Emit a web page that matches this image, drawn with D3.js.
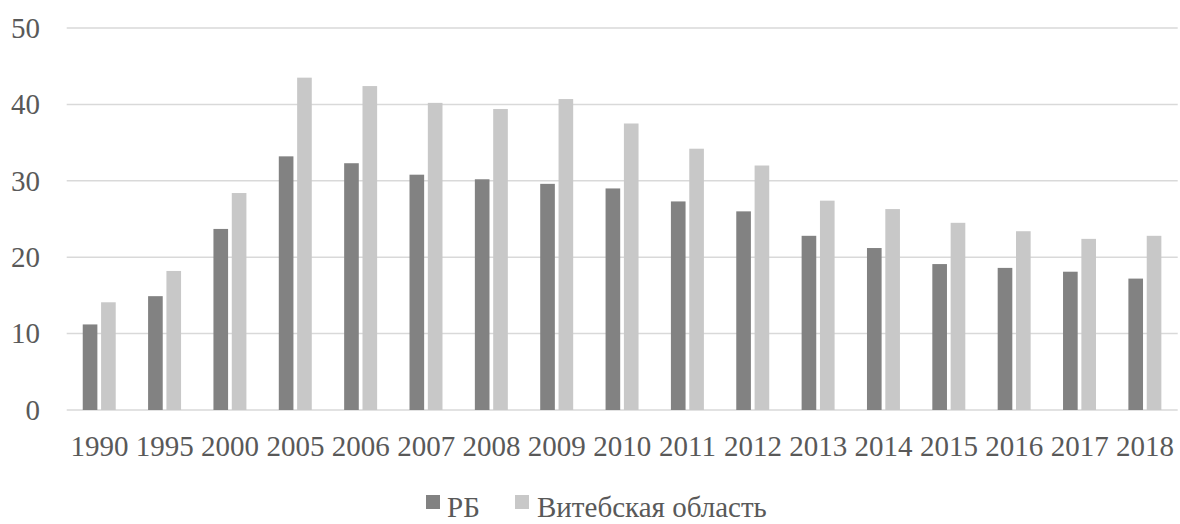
<!DOCTYPE html>
<html><head><meta charset="utf-8">
<script src="https://cdn.jsdelivr.net/npm/d3@7"></script>
<style>html,body{margin:0;padding:0;background:#fff;}svg{display:block;}text{font-family:"Liberation Serif";}</style>
</head><body>
<svg id="c" width="1180" height="524"></svg>
<script>
const categories = ["1990","1995","2000","2005","2006","2007","2008","2009","2010","2011","2012","2013","2014","2015","2016","2017","2018"];
const seriesNames = ["РБ","Витебская область"];
const rbValues = [11.2,14.9,23.7,33.2,32.3,30.8,30.2,29.6,29.0,27.3,26.0,22.8,21.2,19.1,18.6,18.1,17.2];
const vitebskValues = [14.1,18.2,28.4,43.5,42.4,40.2,39.4,40.7,37.5,34.2,32.0,27.4,26.3,24.5,23.4,22.4,22.8];
const yTicks = [0,10,20,30,40,50];
const colors = ["#828282","#c8c8c8"];

(function(){
const svg = d3.select("#c");
const font = "Liberation Serif";
const pLeft = 66.7, pRight = 1177.7, pTop = 28, pBottom = 410;

const x0 = d3.scaleBand().domain(categories).range([pLeft, pRight]).paddingInner(0.5).paddingOuter(0.25);
const x1 = d3.scaleBand().domain(seriesNames).range([0, x0.bandwidth()]);
const y = d3.scaleLinear().domain([0,50]).range([pBottom, pTop]);

svg.append("g").selectAll("line").data(yTicks).join("line")
  .attr("x1", pLeft).attr("x2", pRight)
  .attr("y1", d => y(d)).attr("y2", d => y(d))
  .attr("stroke", "#d9d9d9").attr("stroke-width", 1.5);

svg.append("g").selectAll("text").data(yTicks).join("text")
  .attr("x", 40).attr("y", d => y(d)).attr("dy", "0.34em")
  .attr("text-anchor", "end").style("font-family", font).style("font-size", "29px")
  .attr("fill", "#595959").text(d => d);

const data = categories.map((c,i) => ({c, vals:[rbValues[i], vitebskValues[i]]}));
const g = svg.append("g").selectAll("g").data(data).join("g")
  .attr("transform", d => `translate(${x0(d.c)},0)`);
g.selectAll("rect").data(d => d.vals.map((v,j) => ({name: seriesNames[j], v, j}))).join("rect")
  .attr("x", d => x1(d.name) + (d.j === 0 ? -0.3 : 1.7))
  .attr("width", x1.bandwidth() - 1.7)
  .attr("y", d => y(d.v))
  .attr("height", d => y(0) - y(d.v))
  .attr("fill", d => colors[d.j]);

svg.append("g").selectAll("text").data(categories).join("text")
  .attr("x", d => x0(d) + x0.bandwidth()/2).attr("y", 456)
  .attr("text-anchor", "middle").style("font-family", font).style("font-size", "29px")
  .attr("fill", "#595959").text(d => d);

const legendItems = [{name: seriesNames[0], sx: 426, tx: 447}, {name: seriesNames[1], sx: 515, tx: 537}];
const lg = svg.append("g");
legendItems.forEach((it, i) => {
  lg.append("rect").attr("x", it.sx).attr("y", 495).attr("width", 14).attr("height", 14).attr("fill", colors[i]);
  lg.append("text").attr("x", it.tx).attr("y", 517).style("font-family", font).style("font-size", "29px")
    .attr("fill", "#595959").text(it.name);
});
})();
</script>
</body></html>
